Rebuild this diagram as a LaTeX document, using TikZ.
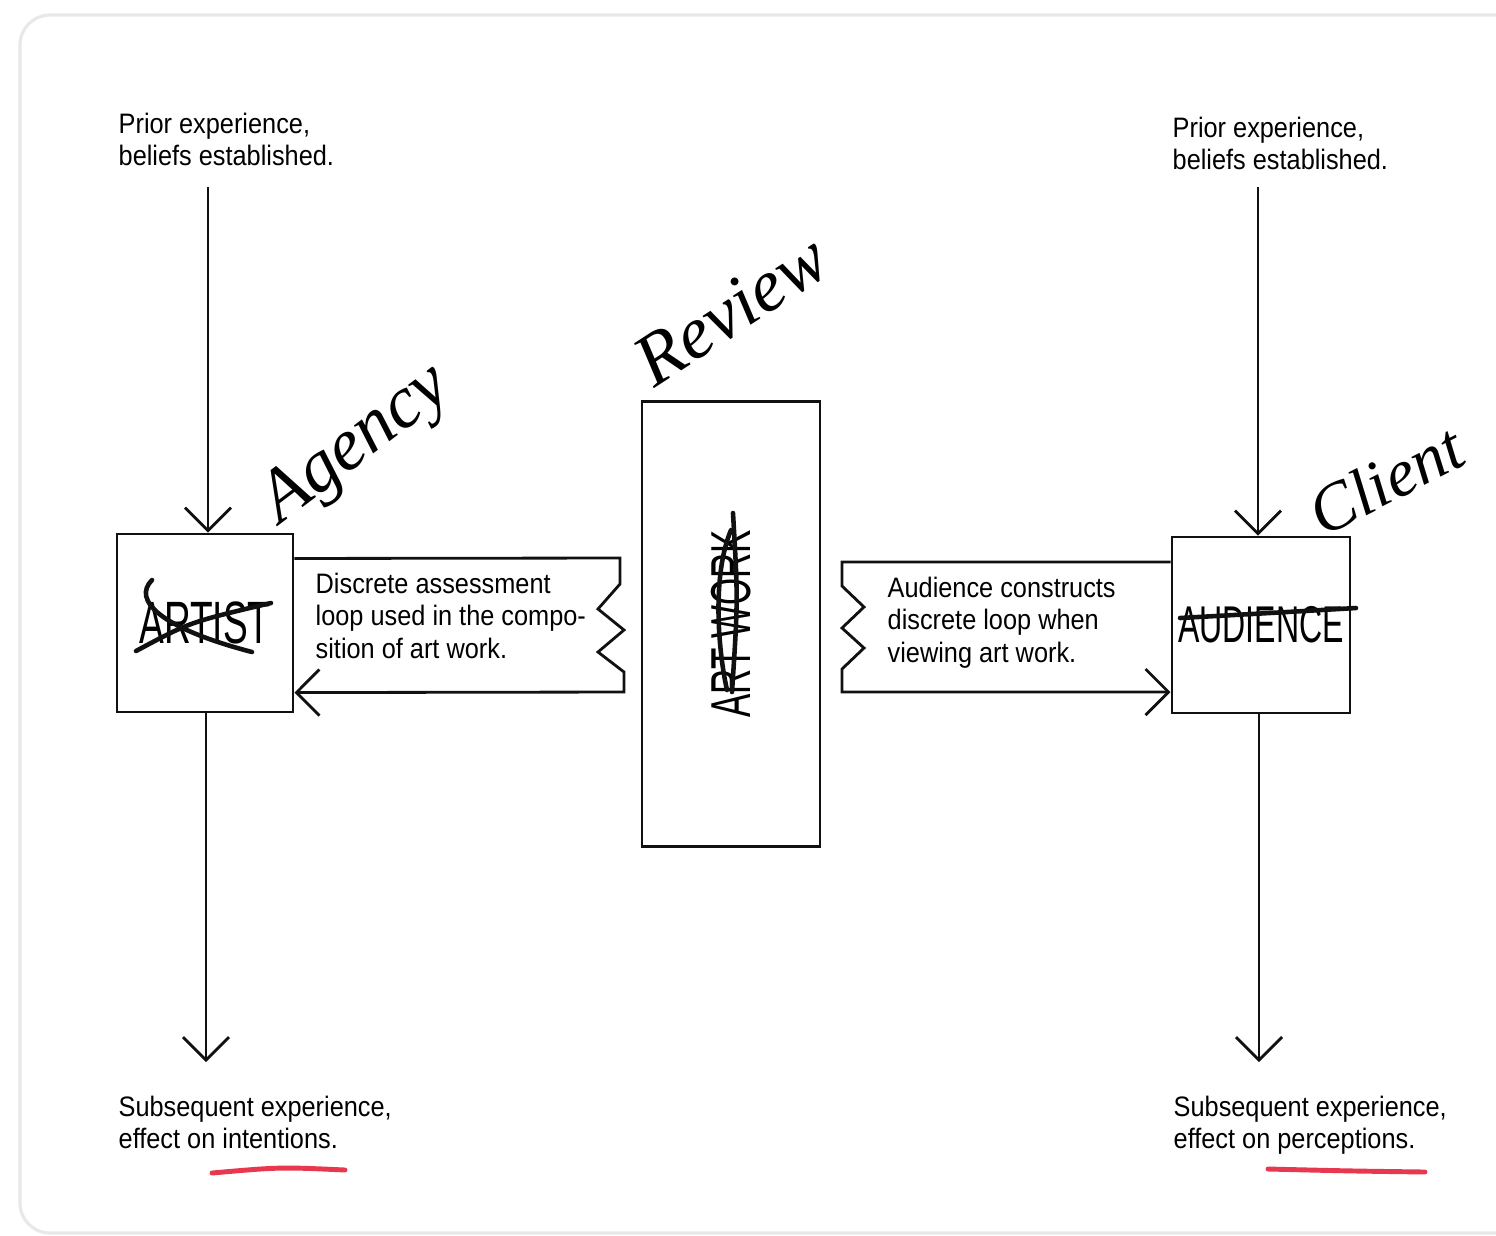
\documentclass[tikz,border=0pt]{standalone}
\usepackage{fontspec}
\setmainfont{Liberation Sans}[FakeStretch=0.9]
\newfontfamily\boxfont{Liberation Sans}[FakeStretch=0.62]
\newfontfamily\handfont{Liberation Serif}
\usetikzlibrary{arrows.meta, positioning, calc}
\definecolor{pen}{HTML}{111111}
\definecolor{marker}{HTML}{E8384F}
\definecolor{framegray}{HTML}{E8E8E8}

\begin{document}
\begin{tikzpicture}[
    x=0.01cm, y=-0.01cm,
    every node/.style={inner sep=0pt},
    note/.style={font=\fontsize{8}{9.3}\selectfont, align=left,
                 anchor=north west},
    box/.style={rectangle, draw=pen, line width=0.8pt},
    boxlabel/.style={font=\boxfont\fontsize{17}{17}\selectfont},
    arrow/.style={-{Straight Barb[length=2.3mm, width=4.6mm, line width=0.8pt]},
                  line width=0.8pt, color=pen},
    hand/.style={font=\handfont\itshape\fontsize{21}{21}\selectfont},
    scribble/.style={line width=1.3pt, line cap=round, color=pen},
    underline/.style={line width=1.4pt, line cap=round, color=marker}
]
\path[use as bounding box] (0,0) rectangle (1496,1235);
\draw[framegray, line width=0.9pt, rounded corners=0.3cm]
    (1496,15) -- (20,15) -- (20,1233) -- (1496,1233);

% Artist side (left)
\node[note] (priorL) at (118,112) {Prior experience,\\beliefs established.};
\node[box, minimum width=1.76cm, minimum height=1.78cm, boxlabel]
    (artist) at (205,623) {ARTIST};
\node[note] (subL) at (118,1095) {Subsequent experience,\\effect on intentions.};
\coordinate (inL) at (208,187);
\coordinate (outL) at (206,1062);

\draw[arrow] (inL) -- (inL |- artist.north);
\draw[arrow] (outL |- artist.south) -- (outL);

% Art work (middle)
\node[box, minimum width=1.78cm, minimum height=4.45cm] (work) at (731,624) {};
\node[boxlabel, font=\boxfont\fontsize{16}{16}\selectfont, rotate=90]
    (worklbl) at (work) {ART WORK};

% Audience side (right)
\node[note] (priorR) at (1172,116) {Prior experience,\\beliefs established.};
\node[box, minimum width=1.78cm, minimum height=1.76cm,
      font=\boxfont\fontsize{14.7}{14.7}\selectfont]
    (audience) at (1261,625) {AUDIENCE};
\node[note] (subR) at (1173,1095) {Subsequent experience,\\effect on perceptions.};
\coordinate (inR) at (1258,187);
\coordinate (outR) at (1259,1062);

\draw[arrow] (inR) -- (inR |- audience.north);
\draw[arrow] (outR |- audience.south) -- (outR);

% Assessment loops
\node[note] (loopL) at (315,572)
    {Discrete assessment\\loop used in the compo-\\sition of art work.};
\draw[arrow] ([yshift=6.45mm]artist.east) -- (620,558) -- (620,584)
    -- (598,609) -- (624,630) -- (598,652) -- (624,672) -- (624,692)
    -- ([yshift=-6.95mm]artist.east);

\node[note] (loopR) at (887,576)
    {Audience constructs\\discrete loop when\\viewing art work.};
\draw[arrow] ([yshift=6.3mm]audience.west) -- (842,562) -- (842,586)
    -- (864,607) -- (842,628) -- (864,648) -- (842,669) -- (842,692)
    -- ([yshift=-6.7mm]audience.west);

% Hand-written notes
\draw[scribble] (152,580) .. controls (132,600) and (160,628) .. (252,652);
\draw[scribble] (136,651) .. controls (190,622) .. (271,603);
\draw[scribble] (733,513) .. controls (738,600) .. (732,692);
\draw[scribble] (731,530) .. controls (712,575) and (718,650) .. (727,690);
\draw[scribble] (1180,618) .. controls (1270,613) .. (1356,608);

\node[hand, rotate=37] (agency) at (357,446) {Agency};
\node[hand, rotate=33] (review) at (731,310) {Review};
\node[hand, rotate=27, font=\handfont\itshape\fontsize{19}{19}\selectfont]
    (client) at (1386,480) {Client};

\draw[underline] (212,1173) .. controls (280,1167) .. (345,1170);
\draw[underline] (1268,1169) .. controls (1350,1171) .. (1425,1172);

\end{tikzpicture}
\end{document}
